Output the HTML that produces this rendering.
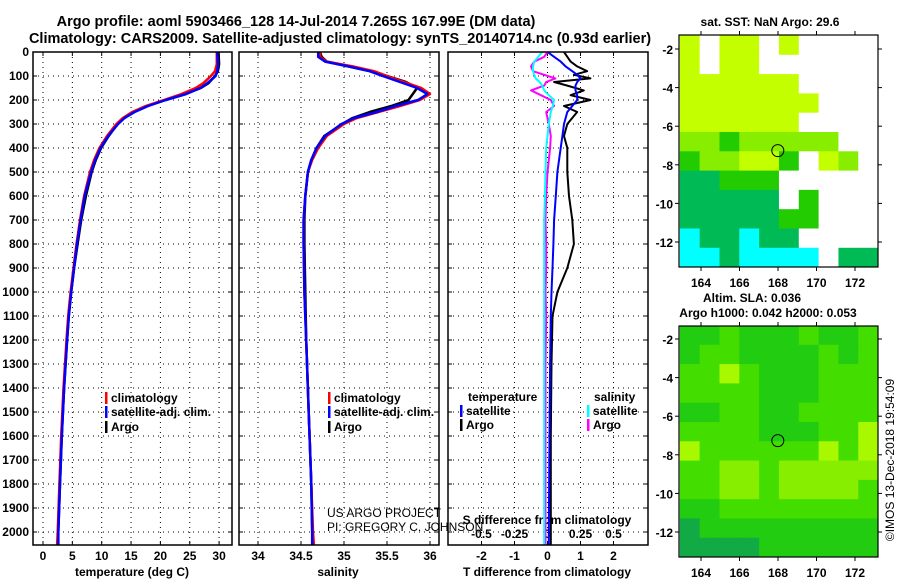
<!DOCTYPE html>
<html><head><meta charset="utf-8"><style>
body{margin:0;background:#fff;}
svg{display:block;font-family:"Liberation Sans",Arial,sans-serif;font-weight:bold;}
.t{font-size:14.5px;}
.tk{font-size:12px;}
.lg{font-size:12px;}
.grid{stroke:#000;stroke-width:1;stroke-dasharray:1,4;}
</style></head><body>
<svg id="c" width="900" height="580" viewBox="0 0 900 580">
<text x="296" y="26" text-anchor="middle" class="t">Argo profile: aoml 5903466_128 14-Jul-2014 7.265S 167.99E (DM data)</text>
<text x="340" y="43" text-anchor="middle" class="t">Climatology: CARS2009. Satellite-adjusted climatology: synTS_20140714.nc (0.93d earlier)</text>
<g id="g"></g>
</svg>
<script>
// ---- data ----
const depthT = [0,50,80,100,130,150,175,200,225,250,275,300,350,400,450,500,600,700,800,900,1000,1100,1200,1400,1600,1800,2000,2055];
const tempClim = [29.6,29.6,29.3,28.6,27.3,26,23.6,20.6,17.5,15.2,13.6,12.5,10.9,9.6,8.7,8.0,7.0,6.3,5.7,5.2,4.7,4.3,4.0,3.5,3.1,2.8,2.5,2.4];
const tempSat  = [29.7,29.8,29.7,29.4,28.0,26.8,24.4,20.9,17.9,15.6,13.9,12.8,11.1,9.8,8.9,8.2,7.1,6.4,5.8,5.3,4.8,4.4,4.1,3.6,3.2,2.9,2.6,2.6];
const tempArgo = [29.9,30.0,29.8,29.3,28.2,26.9,24.3,20.9,17.8,15.5,13.8,12.7,11.2,9.9,9.0,8.3,7.3,6.5,5.9,5.3,4.8,4.4,4.1,3.6,3.2,2.9,2.6,2.6];
const depthS = [0,20,40,60,80,100,125,150,175,200,225,250,275,300,350,400,450,500,600,700,800,1000,1200,1500,1800,2000,2055];
const salClim = [34.72,34.72,34.8,35.1,35.35,35.5,35.7,35.9,36.0,35.88,35.65,35.4,35.15,35.0,34.8,34.7,34.63,34.58,34.55,34.53,34.53,34.54,34.56,34.59,34.62,34.64,34.65];
const salSat  = [34.70,34.70,34.78,35.05,35.3,35.45,35.65,35.85,35.97,35.86,35.6,35.38,35.12,34.97,34.78,34.68,34.62,34.58,34.55,34.53,34.53,34.54,34.56,34.59,34.62,34.63,34.63];
const salArgo = [34.72,34.74,34.8,35.05,35.3,35.5,35.72,35.85,35.8,35.75,35.55,35.3,35.1,34.98,34.77,34.68,34.62,34.58,34.55,34.54,34.54,34.55,34.56,34.59,34.62,34.63,34.63];
const depthD = [0,20,40,60,80,95,110,125,140,160,180,200,225,250,300,350,400,500,600,700,800,900,1000,1100,1300,1600,2000,2055];
const dTsat  = [0.0,0.2,0.4,0.55,0.75,0.9,1.0,0.9,0.85,0.85,0.9,0.9,0.75,0.6,0.5,0.45,0.4,0.3,0.25,0.2,0.18,0.15,0.12,0.1,0.08,0.06,0.04,0.04];
const dTargo = [0.5,0.6,0.7,0.9,1.2,0.8,1.3,0.2,0.6,1.1,0.7,1.3,0.5,0.9,0.6,0.5,0.6,0.6,0.65,0.75,0.8,0.6,0.3,0.15,0.12,0.1,0.1,0.1];
const dSsat  = [-0.04,-0.07,-0.1,-0.11,-0.11,-0.1,-0.09,-0.06,-0.04,-0.025,0.01,0.05,0.04,0.025,0.01,0.0,-0.01,-0.015,-0.02,-0.025,-0.025,-0.025,-0.025,-0.025,-0.025,-0.025,-0.025,-0.025];
const dSargo = [0.0,-0.025,-0.1,-0.125,-0.11,-0.025,0.06,-0.01,-0.025,-0.125,-0.05,0.025,0.05,-0.01,0.01,0.025,0.02,0.0,-0.01,-0.015,-0.01,-0.01,-0.015,-0.01,-0.015,-0.015,-0.015,-0.015];
const depthTicks = [0,100,200,300,400,500,600,700,800,900,1000,1100,1200,1300,1400,1500,1600,1700,1800,1900,2000];
const tempTicks = [0,5,10,15,20,25,30];
const salTicks = [34,34.5,35,35.5,36];
const dTTicks = [-2,-1,0,1,2];
const dSTicks = [-0.5,-0.25,0,0.25,0.5];
const lonTicks = [164,166,168,170,172];
const latTicks = [-2,-4,-6,-8,-10,-12];
const sstGrid = [
[1,0,1,1,0,1,0,0,0,0],[1,0,1,1,0,0,0,0,0,0],[1,1,1,1,1,1,0,0,0,0],[1,1,1,1,1,1,1,0,0,0],
[1,1,1,1,1,1,0,0,0,0],[2,2,3,2,2,2,2,2,0,0],[3,2,2,1,1,3,0,1,2,0],[4,4,3,3,3,0,0,0,0,0],
[4,4,4,4,4,0,3,0,0,0],[4,4,4,4,4,3,3,0,0,0],[5,4,4,5,4,4,0,0,0,0],[5,5,4,5,5,5,5,0,4,4]];
const slaGrid = [
[3,3,2,3,3,3,2,3,3,2],[3,2,2,3,3,3,3,2,3,2],[2,2,1,2,3,3,3,2,2,2],[2,2,2,2,3,3,3,2,2,2],
[3,3,2,2,3,3,2,2,2,2],[2,2,2,2,3,3,3,2,2,1],[1,2,2,2,2,2,2,1,2,1],[2,2,5,5,2,5,5,5,5,5],
[2,2,5,5,2,5,5,5,5,2],[3,3,2,2,2,2,2,2,2,2],[4,3,3,3,3,3,3,3,3,3],[4,4,4,4,3,3,3,3,3,3]];
const argoLon = 167.99, argoLat = -7.265;

// ---- helpers ----
const NS="http://www.w3.org/2000/svg", G=document.getElementById('g');
function mk(t,a,p){const e=document.createElementNS(NS,t);for(const k in a)e.setAttribute(k,a[k]);(p||G).appendChild(e);return e;}
const yD = d => 52 + d*0.24;
const P1={l:33,r:232}, P2={l:239,r:439}, P3={l:448,r:648}, TOP=52, BOT=545;
const xT = v => 43 + v*5.87;
const xS = v => 258 + (v-34)*86;
const xDT = v => 547.5 + v*33;
const xDS = v => 547.5 + v*132;

function frame(P,name){const r=mk('rect',{x:P.l,y:TOP,width:P.r-P.l,height:BOT-TOP,fill:'none',stroke:'#000','stroke-width':1.5});
}
function hgrid(P){depthTicks.forEach(d=>{const l=mk('line',{x1:P.l,x2:P.r,y1:yD(d),y2:yD(d),class:'grid'});

mk('line',{x1:P.l,x2:P.l+4,y1:yD(d),y2:yD(d),stroke:'#000'});mk('line',{x1:P.r-4,x2:P.r,y1:yD(d),y2:yD(d),stroke:'#000'});});}
function vgrid(P,ticks,fx,name){ticks.forEach(v=>{const l=mk('line',{x1:fx(v),x2:fx(v),y1:TOP,y2:BOT,class:'grid'});

mk('line',{x1:fx(v),x2:fx(v),y1:BOT-4,y2:BOT,stroke:'#000'});mk('line',{x1:fx(v),x2:fx(v),y1:TOP,y2:TOP+4,stroke:'#000'});});}
function xlabels(ticks,fx,y,name){ticks.forEach(v=>{const t=mk('text',{x:fx(v),y:y,'text-anchor':'middle',class:'tk'});t.textContent=String(v);
});}
function line(depths,vals,fx,color,w,name){const pts=depths.map((d,i)=>fx(vals[i]).toFixed(1)+','+yD(d).toFixed(1)).join(' ');
const p=mk('polyline',{points:pts,fill:'none',stroke:color,'stroke-width':w,'stroke-linejoin':'round'});
}
function txt(x,y,s,name,cls,anchor,extra){const t=mk('text',Object.assign({x:x,y:y,class:cls||'lg','text-anchor':anchor||'start'},extra||{}));t.textContent=s;
return t;}
function leg(x,y,color,label,name){mk('rect',{x:x,y:y-10,width:2.5,height:12,fill:color});txt(x+6,y,label,name);}

// panel 1
hgrid(P1);vgrid(P1,tempTicks,xT,'temperature-gridline');
depthTicks.forEach(d=>txt(29,yD(d)+4,String(d),'depth-tick-label','tk','end'));
xlabels(tempTicks,xT,560,'temperature-tick-label');
txt(132,576,'temperature (deg C)','temperature-axis-title','lg','middle');
line(depthT,tempArgo,xT,'#000',2.5,'temp-argo-line');
line(depthT,tempClim,xT,'#f00',2.5,'temp-climatology-line');
line(depthT,tempSat,xT,'#00f',2.5,'temp-satellite-line');
leg(105,402,'#f00','climatology','legend-climatology');
leg(105,416,'#00f','satellite-adj. clim.','legend-satellite');
leg(105,431,'#000','Argo','legend-argo');
frame(P1,'temperature-panel');

// panel 2
hgrid(P2);vgrid(P2,salTicks,xS,'salinity-gridline');
xlabels(salTicks,xS,560,'salinity-tick-label');
txt(338,576,'salinity','salinity-axis-title','lg','middle');
line(depthS,salArgo,xS,'#000',2.5,'sal-argo-line');
line(depthS,salClim,xS,'#f00',2.5,'sal-climatology-line');
line(depthS,salSat,xS,'#00f',2.5,'sal-satellite-line');
leg(328,402,'#f00','climatology','legend-climatology-sal');
leg(328,416,'#00f','satellite-adj. clim.','legend-satellite-sal');
leg(328,431,'#000','Argo','legend-argo-sal');
txt(327,517,'US ARGO PROJECT','credit-project','lg','start',{style:'font-weight:normal'});
txt(327,531,'PI: GREGORY C. JOHNSON','credit-pi','lg','start',{style:'font-weight:normal'});
frame(P2,'salinity-panel');

// panel 3
hgrid(P3);vgrid(P3,dTTicks,xDT,'tdiff-gridline');
xlabels(dTTicks,xDT,560,'tdiff-tick-label');
txt(547,576,'T difference from climatology','tdiff-axis-title','lg','middle');
txt(547,524,'S difference from climatology','sdiff-axis-title','lg','middle');
xlabels(dSTicks,xDS,538,'sdiff-tick-label');
line(depthD,dTargo,xDT,'#000',2,'tdiff-argo-line');
line(depthD,dTsat,xDT,'#00f',2,'tdiff-satellite-line');
line(depthD,dSargo,xDS,'#f0f',2,'sdiff-argo-line');
line(depthD,dSsat,xDS,'#0ff',2,'sdiff-satellite-line');
txt(468,401,'temperature','legend-temperature-heading');
leg(460,415,'#00f','satellite','legend-tdiff-satellite');
leg(460,429,'#000','Argo','legend-tdiff-argo');
txt(594,401,'salinity','legend-salinity-heading');
leg(587,415,'#0ff','satellite','legend-sdiff-satellite');
leg(587,429,'#f0f','Argo','legend-sdiff-argo');
frame(P3,'difference-panel');

// maps
function map(M,grid,colors,name){
  const fx=lon=>M.x0+(lon-164)*19.25, fy=lat=>M.y2+(lat+2)*-19.3;
  grid.forEach((row,r)=>row.forEach((c,k)=>{const lon0=162.9+k*1.03, lat0=-1.3-r*1.0;
    const x=Math.max(M.l,fx(lon0)), y=Math.max(M.t,fy(lat0));
    const cell=mk('rect',{x:x,y:y,width:Math.min(M.r,fx(lon0+1.03))-x+0.5,height:Math.min(M.b,fy(lat0-1))-y+0.5,fill:colors[c]});
    }));
  const f=mk('rect',{x:M.l,y:M.t,width:M.r-M.l,height:M.b-M.t,fill:'none',stroke:'#000','stroke-width':1.2});
  
  lonTicks.forEach(v=>{mk('line',{x1:fx(v),x2:fx(v),y1:M.b,y2:M.b+4,stroke:'#000'});mk('line',{x1:fx(v),x2:fx(v),y1:M.t-4,y2:M.t,stroke:'#000'});
    txt(fx(v),M.b+20,String(v),name+'-lon-label','tk','middle');});
  latTicks.forEach(v=>{mk('line',{x1:M.l-4,x2:M.l,y1:fy(v),y2:fy(v),stroke:'#000'});mk('line',{x1:M.r,x2:M.r+4,y1:fy(v),y2:fy(v),stroke:'#000'});
    txt(M.l-6,fy(v)+5,String(v),name+'-lat-label','tk','end');});
  const c=mk('circle',{cx:fx(argoLon),cy:fy(argoLat),r:6,fill:'none',stroke:'#000','stroke-width':1});
  
}
map({l:679,r:878,t:35,b:267,x0:701,y2:49},sstGrid,['#fff','#c4ff00','#88ee00','#22cc00','#00bb55','#00ffff','#0000ee'],'sst-map');
map({l:679,r:878,t:326,b:557,x0:701,y2:339},slaGrid,['#fff','#a8f800','#44dd00','#22cc11','#11aa44','#88ee00'],'sla-map');
txt(770,26,'sat. SST: NaN Argo: 29.6','sst-map-title','tk','middle');
txt(752,302,'Altim. SLA: 0.036','sla-map-title','tk','middle');
txt(768,317,'Argo h1000: 0.042 h2000: 0.053','sla-map-subtitle','tk','middle');
txt(0,0,'©IMOS 13-Dec-2018 19:54:09','timestamp','tk','middle',{transform:'translate(894,460) rotate(-90)',style:'font-weight:normal'});
</script>
</body></html>
